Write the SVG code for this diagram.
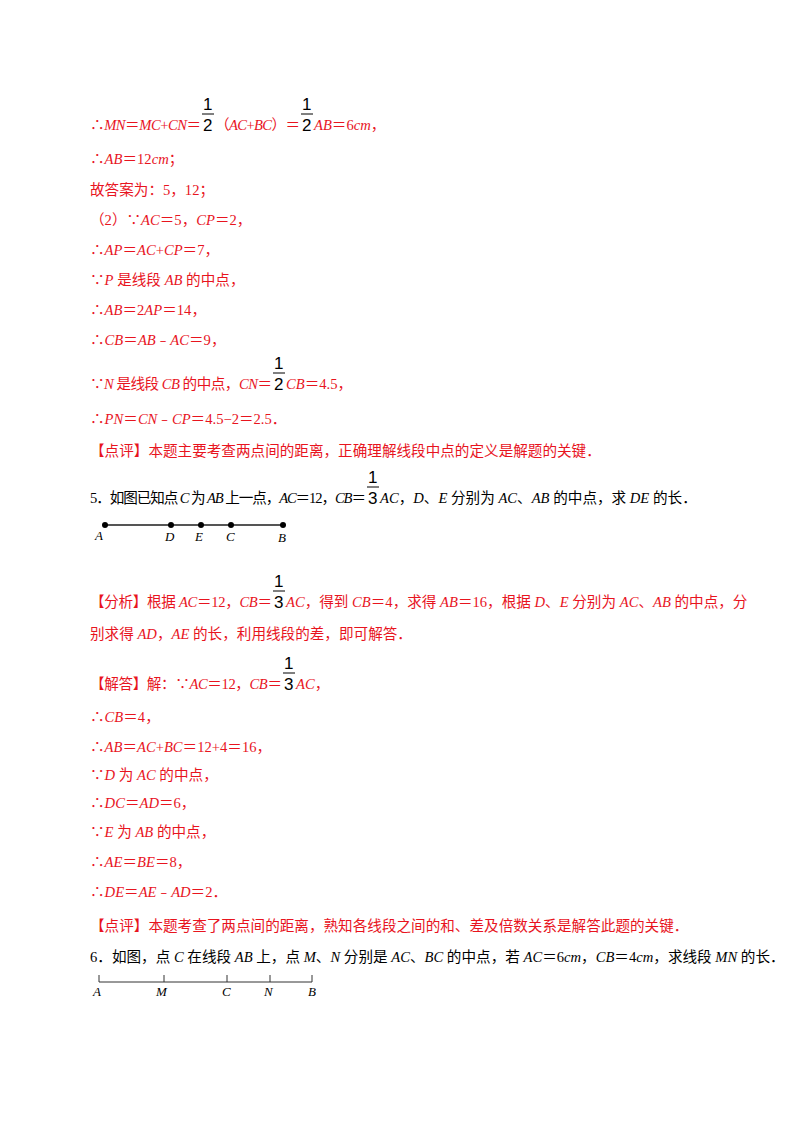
<svg xmlns="http://www.w3.org/2000/svg" width="800" height="1132" viewBox="0 0 800 1132">
<style>
text{font-family:"Liberation Serif","Noto Sans CJK SC",serif;font-size:14.6px}
.r{fill:#e8141e}
.k{fill:#000}
.i{font-style:italic}
.f{font-family:"Liberation Sans",sans-serif;font-size:17px;fill:#000}
.fl{stroke:#000;stroke-width:1}
.lbl{font-style:italic;font-size:13px;fill:#000}
</style>
<rect width="800" height="1132" fill="#fff"/>
<g id="text1">
<text x="90" y="130" class="r" textLength="111" lengthAdjust="spacing">∴<tspan class="i">MN</tspan>＝<tspan class="i">MC</tspan>+<tspan class="i">CN</tspan>＝</text>
<text x="203" y="110" class="f">1</text><line x1="202" y1="114" x2="214" y2="114" class="fl"/><text x="203" y="131" class="f">2</text>
<text x="215" y="130" class="r" textLength="85" lengthAdjust="spacing">（<tspan class="i">AC</tspan>+<tspan class="i">BC</tspan>）＝</text>
<text x="302" y="110" class="f">1</text><line x1="301" y1="114" x2="313" y2="114" class="fl"/><text x="302" y="131" class="f">2</text>
<text x="314" y="130" class="r"><tspan class="i">AB</tspan>＝6<tspan class="i">cm</tspan>，</text>
<text x="90" y="164" class="r">∴<tspan class="i">AB</tspan>＝12<tspan class="i">cm</tspan>；</text>
<text x="90" y="195" class="r">故答案为：5，12；</text>
<text x="90" y="225" class="r">（2）∵<tspan class="i">AC</tspan>＝5，<tspan class="i">CP</tspan>＝2，</text>
<text x="90" y="255" class="r">∴<tspan class="i">AP</tspan>＝<tspan class="i">AC</tspan>+<tspan class="i">CP</tspan>＝7，</text>
<text x="90" y="285" class="r">∵<tspan class="i">P</tspan> 是线段 <tspan class="i">AB</tspan> 的中点，</text>
<text x="90" y="315" class="r">∴<tspan class="i">AB</tspan>＝2<tspan class="i">AP</tspan>＝14，</text>
<text x="90" y="345" class="r">∴<tspan class="i">CB</tspan>＝<tspan class="i">AB</tspan>﹣<tspan class="i">AC</tspan>＝9，</text>
<text x="90" y="389" class="r" textLength="182" lengthAdjust="spacing">∵<tspan class="i">N</tspan> 是线段 <tspan class="i">CB</tspan> 的中点，<tspan class="i">CN</tspan>＝</text>
<text x="274" y="369" class="f">1</text><line x1="273" y1="373" x2="285" y2="373" class="fl"/><text x="274" y="390" class="f">2</text>
<text x="286" y="389" class="r"><tspan class="i">CB</tspan>＝4.5，</text>
<text x="90" y="424" class="r">∴<tspan class="i">PN</tspan>＝<tspan class="i">CN</tspan>﹣<tspan class="i">CP</tspan>＝4.5−2＝2.5．</text>
<text x="90" y="456" class="r">【点评】本题主要考查两点间的距离，正确理解线段中点的定义是解题的关键．</text>
</g>
<g id="q5">
<text x="90" y="503" class="k" textLength="276" lengthAdjust="spacing">5．如图已知点 <tspan class="i">C</tspan> 为 <tspan class="i">AB</tspan> 上一点，<tspan class="i">AC</tspan>＝12，<tspan class="i">CB</tspan>＝</text>
<text x="368" y="483" class="f">1</text><line x1="367" y1="487" x2="379" y2="487" class="fl"/><text x="368" y="504" class="f">3</text>
<text x="380" y="503" class="k"><tspan class="i">AC</tspan>，<tspan class="i">D</tspan>、<tspan class="i">E</tspan> 分别为 <tspan class="i">AC</tspan>、<tspan class="i">AB</tspan> 的中点，求 <tspan class="i">DE</tspan> 的长．</text>
</g>
<g id="fig5">
<line x1="105" y1="525" x2="283" y2="525" stroke="#555" stroke-width="2"/>
<circle cx="105" cy="525" r="3" fill="#000"/><circle cx="171" cy="525" r="3" fill="#000"/><circle cx="201" cy="525" r="3" fill="#000"/><circle cx="231" cy="525" r="3" fill="#000"/><circle cx="283" cy="525" r="3" fill="#000"/>
<text x="95" y="540" class="lbl">A</text><text x="165" y="541" class="lbl">D</text><text x="195" y="541" class="lbl">E</text><text x="226" y="541" class="lbl">C</text><text x="278" y="542" class="lbl">B</text>
</g>
<g id="text5">
<text x="90" y="607" class="r" textLength="182" lengthAdjust="spacing">【分析】根据 <tspan class="i">AC</tspan>＝12，<tspan class="i">CB</tspan>＝</text>
<text x="274" y="587" class="f">1</text><line x1="273" y1="591" x2="285" y2="591" class="fl"/><text x="274" y="608" class="f">3</text>
<text x="286" y="607" class="r"><tspan class="i">AC</tspan>，得到 <tspan class="i">CB</tspan>＝4，求得 <tspan class="i">AB</tspan>＝16，根据 <tspan class="i">D</tspan>、<tspan class="i">E</tspan> 分别为 <tspan class="i">AC</tspan>、<tspan class="i">AB</tspan> 的中点，分</text>
<text x="90" y="639" class="r">别求得 <tspan class="i">AD</tspan>，<tspan class="i">AE</tspan> 的长，利用线段的差，即可解答．</text>
<text x="90" y="689" class="r" textLength="192" lengthAdjust="spacing">【解答】解：∵<tspan class="i">AC</tspan>＝12，<tspan class="i">CB</tspan>＝</text>
<text x="284" y="669" class="f">1</text><line x1="283" y1="673" x2="295" y2="673" class="fl"/><text x="284" y="690" class="f">3</text>
<text x="296" y="689" class="r"><tspan class="i">AC</tspan>，</text>
<text x="90" y="722" class="r">∴<tspan class="i">CB</tspan>＝4，</text>
<text x="90" y="752" class="r">∴<tspan class="i">AB</tspan>＝<tspan class="i">AC</tspan>+<tspan class="i">BC</tspan>＝12+4＝16，</text>
<text x="90" y="780" class="r">∵<tspan class="i">D</tspan> 为 <tspan class="i">AC</tspan> 的中点，</text>
<text x="90" y="808" class="r">∴<tspan class="i">DC</tspan>＝<tspan class="i">AD</tspan>＝6，</text>
<text x="90" y="837" class="r">∵<tspan class="i">E</tspan> 为 <tspan class="i">AB</tspan> 的中点，</text>
<text x="90" y="867" class="r">∴<tspan class="i">AE</tspan>＝<tspan class="i">BE</tspan>＝8，</text>
<text x="90" y="897" class="r">∴<tspan class="i">DE</tspan>＝<tspan class="i">AE</tspan>﹣<tspan class="i">AD</tspan>＝2．</text>
<text x="90" y="931" class="r">【点评】本题考查了两点间的距离，熟知各线段之间的和、差及倍数关系是解答此题的关键．</text>
</g>
<g id="q6">
<text x="90" y="962" class="k">6．如图，点 <tspan class="i">C</tspan> 在线段 <tspan class="i">AB</tspan> 上，点 <tspan class="i">M</tspan>、<tspan class="i">N</tspan> 分别是 <tspan class="i">AC</tspan>、<tspan class="i">BC</tspan> 的中点，若 <tspan class="i">AC</tspan>＝6<tspan class="i">cm</tspan>，<tspan class="i">CB</tspan>＝4<tspan class="i">cm</tspan>，求线段 <tspan class="i">MN</tspan> 的长．</text>
</g>
<g id="fig6" stroke="#333" stroke-width="1">
<line x1="99" y1="982" x2="312" y2="982"/>
<line x1="99" y1="975" x2="99" y2="982"/><line x1="164" y1="975" x2="164" y2="982"/><line x1="227" y1="975" x2="227" y2="982"/><line x1="270" y1="975" x2="270" y2="982"/><line x1="312" y1="975" x2="312" y2="982"/>
</g>
<g id="fig6labels">
<text x="93" y="996" class="lbl">A</text><text x="156" y="996" class="lbl">M</text><text x="222" y="996" class="lbl">C</text><text x="264" y="996" class="lbl">N</text><text x="308" y="996" class="lbl">B</text>
</g>
</svg>
